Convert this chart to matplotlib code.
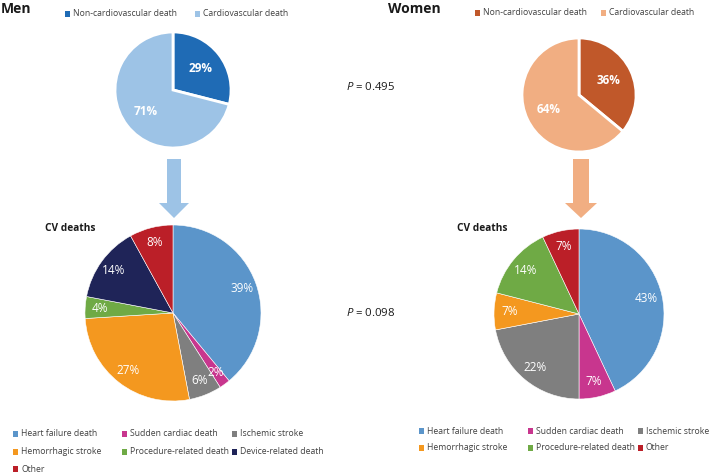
import matplotlib.pyplot as plt
from matplotlib.patches import Rectangle

plt.rcParams['font.family'] = ['Open Sans', 'DejaVu Sans']
plt.rcParams['mathtext.fontset'] = 'custom'
plt.rcParams['mathtext.it'] = 'Open Sans:italic'
plt.rcParams['mathtext.rm'] = 'Open Sans'

W, H = 709, 473

# top pies: overall deaths
top_labels = ['Non-cardiovascular death', 'Cardiovascular death']
men_top = [29, 71]
women_top = [36, 64]
men_top_colors = ['#1F6BB5', '#9DC3E6']
women_top_colors = ['#C0582A', '#F1AE82']

# bottom pies: CV deaths
men_cv_labels = ['Heart failure death', 'Sudden cardiac death', 'Ischemic stroke',
                 'Hemorrhagic stroke', 'Procedure-related death', 'Device-related death', 'Other']
men_cv = [39, 2, 6, 27, 4, 14, 8]
women_cv_labels = ['Heart failure death', 'Sudden cardiac death', 'Ischemic stroke',
                   'Hemorrhagic stroke', 'Procedure-related death', 'Other']
women_cv = [43, 7, 22, 7, 14, 7]
cv_colors = {'Heart failure death': '#5B95CA', 'Sudden cardiac death': '#C8368E',
             'Ischemic stroke': '#7F7F7F', 'Hemorrhagic stroke': '#F4981F',
             'Procedure-related death': '#6FAA45', 'Device-related death': '#1F2458',
             'Other': '#BB1F28'}

p_values = ['0.495', '0.098']

TXT = '#404040'


def Y(y):
    return H - y


def add_legend(ax, labels, colors, xs, ys, ncol, fs=6.2):
    for i, (lab, col) in enumerate(zip(labels, colors)):
        r, c = divmod(i, ncol)
        x, y = xs[c], ys[r]
        ax.add_patch(Rectangle((x, Y(y) - 2.6), 5.2, 5.2, color=col, lw=0))
        ax.text(x + 8, Y(y), lab, fontsize=fs, color=TXT, va='center', ha='left')


def pct_fmt(p):
    return '%d%%' % round(p)


fig = plt.figure(figsize=(7.09, 4.73), dpi=100)
ax = fig.add_axes([0, 0, 1, 1])

# top pies
ax.pie(men_top, colors=men_top_colors, startangle=90, counterclock=False,
       center=(173, Y(90)), radius=58, explode=[0.07, 0], autopct=pct_fmt,
       pctdistance=0.6, wedgeprops=dict(edgecolor='white', linewidth=2.0),
       textprops=dict(color='white', fontsize=8.5, fontweight='bold'))
ax.pie(women_top, colors=women_top_colors, startangle=90, counterclock=False,
       center=(579, Y(95)), radius=57, explode=[0.07, 0], autopct=pct_fmt,
       pctdistance=0.58, wedgeprops=dict(edgecolor='white', linewidth=2.0),
       textprops=dict(color='white', fontsize=8.5, fontweight='bold'))

# bottom pies
ax.pie(men_cv, colors=[cv_colors[l] for l in men_cv_labels], startangle=90,
       counterclock=False, center=(173, Y(313)), radius=88, autopct=pct_fmt,
       pctdistance=0.83, wedgeprops=dict(edgecolor='white', linewidth=0.4),
       textprops=dict(color='white', fontsize=8.5))
ax.pie(women_cv, colors=[cv_colors[l] for l in women_cv_labels], startangle=90,
       counterclock=False, center=(579, Y(314)), radius=85, autopct=pct_fmt,
       pctdistance=0.81, wedgeprops=dict(edgecolor='white', linewidth=0.4),
       textprops=dict(color='white', fontsize=8.5))

# arrows
ax.arrow(174, Y(159), 0, -59, width=14, head_width=30, head_length=15,
         length_includes_head=True, color=men_top_colors[1], lw=0)
ax.arrow(581, Y(159), 0, -59, width=16, head_width=32, head_length=15,
         length_includes_head=True, color=women_top_colors[1], lw=0)

# titles
ax.text(1, Y(9), 'Men', fontsize=10, fontweight='bold', color='#1a1a1a', va='center', ha='left')
ax.text(388, Y(9), 'Women', fontsize=10, fontweight='bold', color='#1a1a1a', va='center', ha='left')
ax.text(45, Y(229), 'CV deaths', fontsize=7.3, fontweight='bold', color='#1a1a1a', va='center')
ax.text(457, Y(229), 'CV deaths', fontsize=7.3, fontweight='bold', color='#1a1a1a', va='center')

ax.text(346, Y(87), '$P$ = ' + p_values[0], fontsize=8.2, color='#1a1a1a', va='center')
ax.text(346, Y(313), '$P$ = ' + p_values[1], fontsize=8.2, color='#1a1a1a', va='center')

# legends
add_legend(ax, top_labels, men_top_colors, [65, 195], [14], 2)
add_legend(ax, top_labels, women_top_colors, [475, 601], [13], 2)
add_legend(ax, men_cv_labels, [cv_colors[l] for l in men_cv_labels],
           [13, 122, 232], [434, 452, 469], 3)
add_legend(ax, women_cv_labels, [cv_colors[l] for l in women_cv_labels],
           [419, 528, 638], [431, 448], 3)

ax.set_xlim(0, W)
ax.set_ylim(0, H)
ax.set_aspect('equal')
ax.axis('off')

fig.savefig('out.png', dpi=100)
